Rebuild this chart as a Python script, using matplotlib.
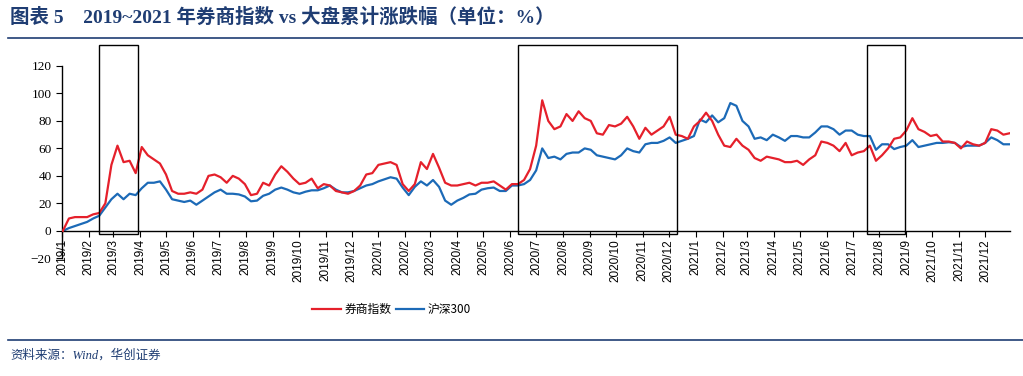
import pandas as pd
import matplotlib
matplotlib.use("Agg")
from matplotlib import pyplot as plt
import matplotlib.dates as mdates
from matplotlib.patches import Rectangle
from matplotlib.lines import Line2D

plt.rcParams['font.family'] = ['Liberation Serif', 'Noto Sans CJK SC']

# weekly readings, 2019-01-02 .. 2021-12-29
dates = pd.date_range('2019-01-02', periods=157, freq='7D')

broker = [0, 9, 10, 10, 10, 12, 13, 20, 48, 62, 50, 51, 42, 61, 55, 52, 49, 41, 29, 27, 27, 28, 27, 30, 40, 41, 39,
          35, 40, 38, 34, 26, 27, 35, 33, 41, 47, 43, 38, 34, 35, 38, 31, 34, 33, 29, 28, 27, 29, 33, 41, 42,
          48, 49, 50, 48, 34, 29, 34, 50, 45, 56, 46, 35, 33, 33, 34, 35, 33, 35, 35, 36, 33, 30, 34, 34, 37, 45,
          62, 95, 80, 74, 76, 85, 80, 87, 82, 80, 71, 70, 77, 76, 78, 83, 76, 67, 75, 70, 73, 76, 83, 70, 69,
          67, 76, 80, 86, 80, 70, 62, 61, 67, 62, 59, 53, 51, 54, 53, 52, 50, 50, 51, 48, 52, 55, 65, 64, 62, 58, 64,
          55, 57, 58, 62, 51, 55, 60, 67, 68, 73, 82, 74, 72, 69, 70, 65, 65, 64, 60, 65, 63, 62, 64, 74, 73, 70, 71]

hs300 = [0, 2, 3.5, 5, 6.5, 9, 11, 17, 23, 27, 23, 27, 26, 31, 35, 35, 36, 30, 23, 22, 21, 22, 19, 22, 25, 28, 30,
         27, 27, 26.5, 25, 21.5, 22, 25.5, 27, 30, 31.5, 30, 28, 27, 28.5, 29.5, 29.5, 31, 33, 30, 28, 28, 29, 31, 33, 34,
         36, 37.5, 39, 38, 31.5, 26, 32, 36, 33, 37, 32, 22, 19, 22, 24, 26.5, 27, 30, 31, 31.5, 29, 29, 33, 33, 34, 37,
         44, 60, 53, 54, 52, 56, 57, 57, 60, 59, 55, 54, 53, 52, 55, 60, 58, 57, 63, 64, 64, 65.5, 68, 64, 65.5,
         67, 69, 81, 79, 84, 79, 82, 93, 91, 80, 76, 67, 68, 66, 70, 68, 65.5, 69, 69, 68, 68, 71.6, 76, 76, 74, 70, 73,
         73, 70, 69, 69, 59, 63, 63, 59.5, 61, 62, 66, 61, 62, 63, 64, 64, 64.5, 64, 61, 62, 62, 62, 64, 68, 66, 63, 63]

# highlighted periods
boxes = [('2019-02-13', '2019-03-30'), ('2020-06-10', '2020-12-10'), ('2021-07-18', '2021-08-31')]

navy = '#1F3D73'
red = '#E5202B'
blue = '#1C6AB7'

fig = plt.figure(figsize=(10.23, 3.76), dpi=100)
ax = fig.add_axes([0.0606, 0.313, 0.927, 0.570])

ax.plot(dates, broker, color=red, lw=1.6, zorder=3)
ax.plot(dates, hs300, color=blue, lw=1.6, zorder=2)

ax.set_ylim(-20, 136)
ax.set_xlim(pd.Timestamp('2019-01-01'), pd.Timestamp('2021-12-30'))
ax.set_yticks(range(-20, 121, 20))
ax.spines['left'].set_bounds(-20, 120)
ax.spines['bottom'].set_position(('data', 0))
ax.spines['top'].set_visible(False)
ax.spines['right'].set_visible(False)
for s in ax.spines.values():
    s.set_linewidth(1.0)

months = pd.date_range('2019-01-01', '2021-12-01', freq='MS')
ax.set_xticks(months)
ax.set_xticklabels([f'{d.year}/{d.month}' for d in months], rotation=90,
                   family='Liberation Sans', fontsize=8.5)
ax.tick_params(axis='x', length=4, pad=2)
ax.tick_params(axis='y', length=4, labelsize=9.5)

for a, b in boxes:
    x0 = mdates.date2num(pd.Timestamp(a))
    x1 = mdates.date2num(pd.Timestamp(b))
    ax.add_patch(Rectangle((x0, -2.4), x1 - x0, 137.7, fill=False, ec='black', lw=1.0,
                           clip_on=False, zorder=4))

# title and rules
fig.text(0.010, 0.953, '图表 5    2019~2021 年券商指数 vs 大盘累计涨跌幅（单位：%）',
         fontsize=14, fontweight='bold', color=navy, va='center')
fig.add_artist(Line2D([0.008, 1.0], [0.899, 0.899], color=navy, lw=1.2))
fig.add_artist(Line2D([0.008, 1.0], [0.096, 0.096], color=navy, lw=1.2))
fig.text(0.010, 0.055, '资料来源：Wind，华创证券', fontsize=9, color=navy,
         style='italic', va='center')

handles = [Line2D([], [], color=red, lw=1.6), Line2D([], [], color=blue, lw=1.6)]
fig.legend(handles, ['券商指数', '沪深300'], loc='center', bbox_to_anchor=(0.383, 0.176),
           ncol=2, frameon=False, handlelength=2.4, handletextpad=0.3,
           columnspacing=0.4, prop={'family': ['Noto Sans CJK SC'], 'size': 8.5})

fig.savefig('out.png', dpi=100)
